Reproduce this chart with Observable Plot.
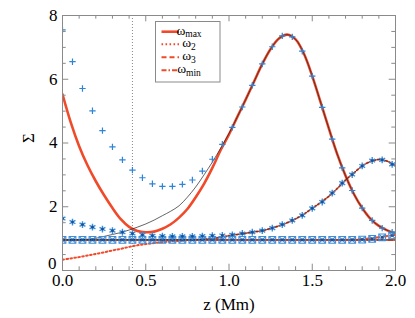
<!DOCTYPE html>
<html><head><meta charset="utf-8">
<script src="https://cdn.jsdelivr.net/npm/d3@7"></script>
<script src="https://cdn.jsdelivr.net/npm/@observablehq/plot@0.6"></script>
<style>body{margin:0;background:#fff;} #chart{width:415px;height:318px;} svg text, svg tspan{font-family:"Liberation Serif",serif;}</style>
</head><body><div id="chart"></div>
<script>
// ---- data ----
const zMarkers = [0,0.06,0.12,0.18,0.24,0.30,0.36,0.42,0.48,0.54,0.60,0.66,0.72,0.78,0.84,0.90,0.96,1.02,1.08,1.14,1.20,1.26,1.32,1.38,1.44,1.50,1.56,1.62,1.68,1.74,1.80,1.86,1.92,1.98];
const plusVals = [7.55,6.55,5.71,5.01,4.39,3.88,3.47,3.15,2.91,2.72,2.64,2.64,2.70,2.84,3.12,3.49,3.96,4.49,5.13,5.81,6.48,7.02,7.36,7.33,6.88,6.10,5.12,4.12,3.22,2.51,1.96,1.57,1.33,1.20];
const starVals = [1.63,1.52,1.44,1.36,1.30,1.25,1.20,1.16,1.12,1.09,1.08,1.07,1.07,1.07,1.08,1.09,1.10,1.12,1.16,1.20,1.25,1.33,1.44,1.57,1.73,1.95,2.15,2.43,2.74,3.01,3.28,3.45,3.47,3.33];
const boxVals = [0.96,0.96,0.96,0.96,0.96,0.96,0.96,0.96,0.96,0.96,0.96,0.96,0.96,0.96,0.96,0.96,0.96,0.96,0.96,0.96,0.96,0.96,0.96,0.96,0.96,0.96,0.96,0.96,0.96,0.96,0.97,0.99,1.04,1.10];

const zLine = [0,0.05,0.1,0.15,0.2,0.25,0.3,0.35,0.4,0.45,0.5,0.55,0.6,0.65,0.7,0.75,0.8,0.85,0.9,0.95,1.0,1.05,1.1,1.15,1.2,1.25,1.3,1.35,1.4,1.45,1.5,1.55,1.6,1.65,1.7,1.75,1.8,1.85,1.9,1.95,2.0];
const omegaMax = [5.53,4.64,3.90,3.30,2.80,2.36,1.96,1.61,1.37,1.24,1.20,1.22,1.31,1.45,1.66,1.93,2.30,2.72,3.22,3.78,4.27,4.82,5.36,5.92,6.48,6.95,7.28,7.40,7.25,6.80,6.10,5.28,4.45,3.65,2.97,2.40,1.96,1.62,1.40,1.26,1.17];
const omega2 = [0.34,0.38,0.42,0.47,0.52,0.57,0.63,0.68,0.74,0.79,0.83,0.86,0.89,0.91,0.93,0.95,0.96,0.98,1.00,1.04,1.09,1.13,1.17,1.21,1.25,1.32,1.40,1.50,1.62,1.77,1.95,2.13,2.33,2.57,2.84,3.06,3.28,3.42,3.48,3.43,3.28];
const omega3 = [0.96,0.96,0.96,0.96,0.96,0.96,0.96,0.96,0.96,0.96,0.96,0.96,0.96,0.96,0.96,0.96,0.96,0.96,0.96,0.96,0.96,0.96,0.96,0.96,0.96,0.96,0.96,0.96,0.96,0.96,0.96,0.96,0.96,0.96,0.96,0.97,0.99,1.01,1.04,1.08,1.12];
const zMin = [0,2];
const omegaMin = [0.96,0.96];
// thin black reference curves
const black1 = [0.96,0.96,0.965,0.98,1.01,1.07,1.13,1.19,1.27,1.36,1.46,1.58,1.72,1.86,2.03,2.30,2.62,3.00,3.40,3.84,4.30,4.82,5.36,5.92,6.48,6.95,7.28,7.40,7.25,6.80,6.10,5.28,4.45,3.65,2.97,2.40,1.96,1.62,1.40,1.26,1.17];
const black2 = [0.96,0.96,0.96,0.96,0.96,0.96,0.96,0.96,0.96,0.96,0.96,0.96,0.96,0.96,0.96,0.96,0.96,0.98,1.00,1.04,1.09,1.13,1.17,1.21,1.25,1.32,1.40,1.50,1.62,1.77,1.95,2.13,2.33,2.57,2.84,3.06,3.28,3.42,3.48,3.43,3.28];
const black3 = [0.96,0.96];
const cutZ = [0.42];

const xMajor = [0,0.5,1,1.5,2];
const xMinor = [0.1,0.2,0.3,0.4,0.6,0.7,0.8,0.9,1.1,1.2,1.3,1.4,1.6,1.7,1.8,1.9];
const yMajor = [0,2,4,6,8];
const yMinor = [0.5,1,1.5,2.5,3,3.5,4.5,5,5.5,6.5,7,7.5];
const legendLabels = [["ω","max"],["ω","2"],["ω","3"],["ω","min"]];
const xTitle = "z (Mm)";
const yTitle = "Σ";

// ---- styling ----
const SERIF = "Liberation Serif";
const RED = "#f04a2a";
const BLUE = "#3b8fdc";
const DARK = "#1b4f95";
const AX = "#8a8a8a";
const W = 415, H = 318, ML = 62, MR = 20, MT = 15, MB = 48;
const FW = W - ML - MR, FH = H - MT - MB;

const mk = (zs, vs) => zs.map((z, i) => ({z, v: vs[i]}));

const plot = Plot.plot({
  width: W, height: H,
  marginLeft: ML, marginRight: MR, marginTop: MT, marginBottom: MB,
  x: {domain: [0, 2]},
  y: {domain: [0, 8]},
  style: {fontFamily: SERIF, fontSize: "17px", color: "#000", background: "#fff"},
  marks: [
    Plot.ruleX(cutZ, {x: d => d, stroke: "#888", strokeWidth: 1, strokeDasharray: "1,2"}),
    // red curves
    Plot.line(mk(zLine, omega2), {x: "z", y: "v", stroke: RED, strokeWidth: 2, strokeDasharray: "1.6,2.4", curve: "catmull-rom", clip: true}),
    Plot.line(mk(zLine, omega3), {x: "z", y: "v", stroke: RED, strokeWidth: 2, strokeDasharray: "5,3", curve: "catmull-rom", clip: true}),
    Plot.line(mk(zMin, omegaMin), {x: "z", y: "v", stroke: RED, strokeWidth: 2, strokeDasharray: "5,2,1.5,2", clip: true}),
    Plot.line(mk(zLine, omegaMax), {x: "z", y: "v", stroke: RED, strokeWidth: 2.6, curve: "catmull-rom", clip: true}),
    // thin black curves
    Plot.line(mk(zLine, black1), {x: "z", y: "v", stroke: "#222", strokeWidth: 0.7, curve: "catmull-rom", clip: true}),
    Plot.line(mk(zLine, black2), {x: "z", y: "v", stroke: "#222", strokeWidth: 0.7, curve: "catmull-rom", clip: true}),
    Plot.line(mk(zMin, black3), {x: "z", y: "v", stroke: "#222", strokeWidth: 0.7, clip: true}),
    // markers
    Plot.dot(mk(zMarkers, boxVals), {x: "z", y: "v", symbol: "square2", r: 4.3, stroke: BLUE, strokeWidth: 1.1, clip: true}),
    Plot.dot(mk(zMarkers, boxVals), {x: "z", y: "v", symbol: "times", r: 2.8, stroke: BLUE, strokeWidth: 1.2, clip: true}),
    Plot.dot(mk(zMarkers, boxVals), {x: "z", y: "v", r: 1.4, fill: DARK, stroke: "none", clip: true}),
    Plot.dot(mk(zMarkers, starVals), {x: "z", y: "v", symbol: "asterisk", r: 3.2, stroke: BLUE, strokeWidth: 1.4, clip: true}),
    Plot.dot(mk(zMarkers, starVals), {x: "z", y: "v", r: 1.4, fill: DARK, stroke: "none", clip: true}),
    Plot.dot(mk(zMarkers, plusVals), {x: "z", y: "v", symbol: "plus", r: 2.2, stroke: "#2f84d6", strokeWidth: 1.2, clip: true}),
    // frame and ticks
    Plot.frame({stroke: AX, strokeWidth: 1}),
    Plot.tickX(xMajor, {x: d => d, stroke: AX, insetTop: FH - 6.3}),
    Plot.tickX(xMinor, {x: d => d, stroke: AX, insetTop: FH - 3.7}),
    Plot.tickX(xMajor, {x: d => d, stroke: AX, insetBottom: FH - 6.3}),
    Plot.tickX(xMinor, {x: d => d, stroke: AX, insetBottom: FH - 3.7}),
    Plot.tickY(yMajor, {y: d => d, stroke: AX, insetRight: FW - 6.3}),
    Plot.tickY(yMinor, {y: d => d, stroke: AX, insetRight: FW - 3.7}),
    Plot.tickY(yMajor, {y: d => d, stroke: AX, insetLeft: FW - 6.3}),
    Plot.tickY(yMinor, {y: d => d, stroke: AX, insetLeft: FW - 3.7}),
    Plot.axisX({ticks: xMajor, tickFormat: d3.format(".1f"), tickSize: 0, tickPadding: 3, label: null, fontSize: 17, fontFamily: SERIF}),
    Plot.axisY({ticks: yMajor.filter(d => d > 0), tickFormat: d3.format("d"), tickSize: 0, tickPadding: 5, label: null, fontSize: 17, fontFamily: SERIF}),
    Plot.axisY({ticks: yMajor.filter(d => d === 0), tickFormat: d3.format("d"), tickSize: 0, tickPadding: 6, dy: -7, label: null, fontSize: 17, fontFamily: SERIF}),
    Plot.text([xTitle], {frameAnchor: "bottom", dy: 34, lineAnchor: "middle", fontSize: 17, fontFamily: SERIF, fill: "#000"}),
    Plot.text([yTitle], {frameAnchor: "left", dx: -34, rotate: -90, fontSize: 17, fontFamily: SERIF, fill: "#000"})
  ]
});
document.getElementById("chart").appendChild(plot);

// ---- legend ----
const svg = d3.select(plot);
const lg = svg.append("g").attr("font-family", SERIF);
lg.append("rect").attr("x", 155.5).attr("y", 21.5).attr("width", 64.5).attr("height", 60.5)
  .attr("fill", "#fff").attr("stroke", AX).attr("stroke-width", 1);
const dashes = [null, "1.6,2.4", "5,3", "5,2,1.5,2"];
const rowsY = [31.7, 44.2, 57.2, 70.2];
legendLabels.forEach((lab, i) => {
  lg.append("line").attr("x1", 161.5).attr("x2", 179).attr("y1", rowsY[i]).attr("y2", rowsY[i])
    .attr("stroke", RED).attr("stroke-width", i === 0 ? 2.6 : 2)
    .attr("stroke-dasharray", dashes[i]);
  const t = lg.append("text").attr("x", 189).attr("y", rowsY[i] + 3.2)
    .attr("font-family", SERIF).attr("font-size", 13.5).attr("fill", "#000");
  t.append("tspan").text(lab[0]);
  t.append("tspan").attr("dy", 2.3).attr("font-size", 9.5).text(lab[1]);
});
svg.selectAll("text").style("font-family", "'Liberation Serif', serif");
</script></body></html>
